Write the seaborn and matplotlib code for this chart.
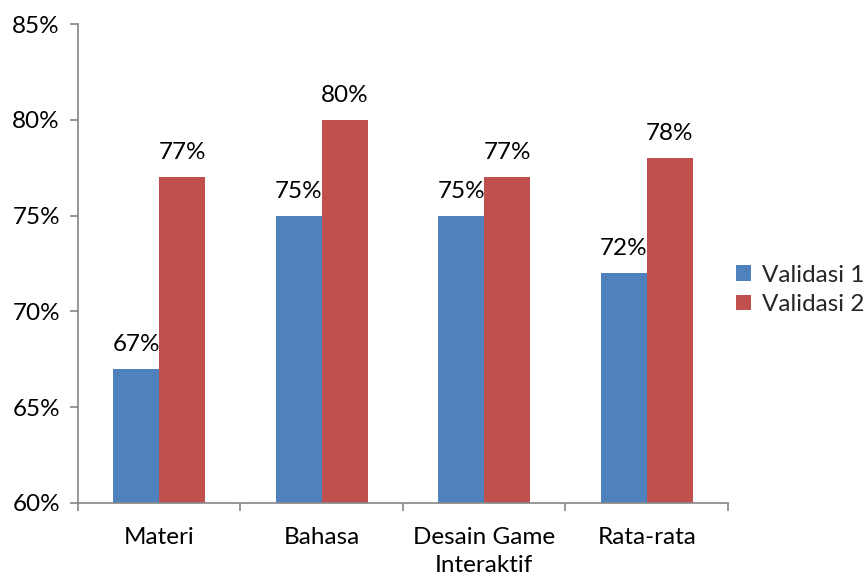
import matplotlib
matplotlib.use("Agg")
import matplotlib.pyplot as plt
import seaborn as sns
import pandas as pd
import numpy as np
from matplotlib.ticker import FixedLocator, FuncFormatter

categories = ["Materi", "Bahasa", "Desain Game\nInteraktif", "Rata-rata"]
validasi_1 = [67, 75, 75, 72]
validasi_2 = [77, 80, 77, 78]
series_names = ["Validasi 1", "Validasi 2"]
y_ticks = [60, 65, 70, 75, 80, 85]

df = pd.DataFrame({
    "Kategori": categories * 2,
    "Nilai": validasi_1 + validasi_2,
    "Seri": [series_names[0]] * 4 + [series_names[1]] * 4,
})

sns.set_theme(style="white")
plt.rcParams["font.family"] = ["Lato", "DejaVu Sans"]

FS = 17.5

fig = plt.figure(figsize=(8.66, 5.8), dpi=100)
ax = fig.add_axes([0.090, 0.1328, 0.7506, 0.8258])

palette = {"Validasi 1": "#4F81BD", "Validasi 2": "#C0504D"}
sns.barplot(data=df, x="Kategori", y="Nilai", hue="Seri", palette=palette,
            width=0.566, saturation=1, linewidth=0, ax=ax, legend=True)

ax.set_ylim(60, 85)
ax.set_xlim(-0.5, 3.5)
ax.yaxis.set_major_locator(FixedLocator(y_ticks))
ax.yaxis.set_major_formatter(FuncFormatter(lambda v, p: f"{v:.0f}%"))
ax.set_xlabel("")
ax.set_ylabel("")

for sp in ["top", "right"]:
    ax.spines[sp].set_visible(False)
for sp in ["left", "bottom"]:
    ax.spines[sp].set_color("#868686")
    ax.spines[sp].set_linewidth(1.2)

ax.tick_params(axis="y", which="major", left=True, length=6, width=1.2,
               color="#868686", labelsize=FS, pad=7, labelcolor="black")
ax.tick_params(axis="x", which="major", bottom=False, labelsize=FS, pad=11,
               labelcolor="black")
for lbl in ax.get_xticklabels():
    lbl.set_linespacing(1.45)
ax.set_xticks(np.arange(-0.5, 4.0, 1.0), minor=True)
ax.tick_params(axis="x", which="minor", bottom=True, length=6, width=1.2,
               color="#868686")

for container in ax.containers:
    ax.bar_label(container, labels=[f"{v:.0f}%" for v in container.datavalues],
                 padding=10, fontsize=FS, color="black")

handles, labels = ax.get_legend_handles_labels()
ax.legend(handles, labels, loc="center left",
          bbox_to_anchor=(736 / 866, 1 - 290 / 580), bbox_transform=fig.transFigure,
          frameon=False, fontsize=FS, handlelength=0.6, handleheight=0.6,
          handletextpad=0.45, labelspacing=0.35, borderaxespad=0, borderpad=0)

fig.savefig("out.png", dpi=100)
